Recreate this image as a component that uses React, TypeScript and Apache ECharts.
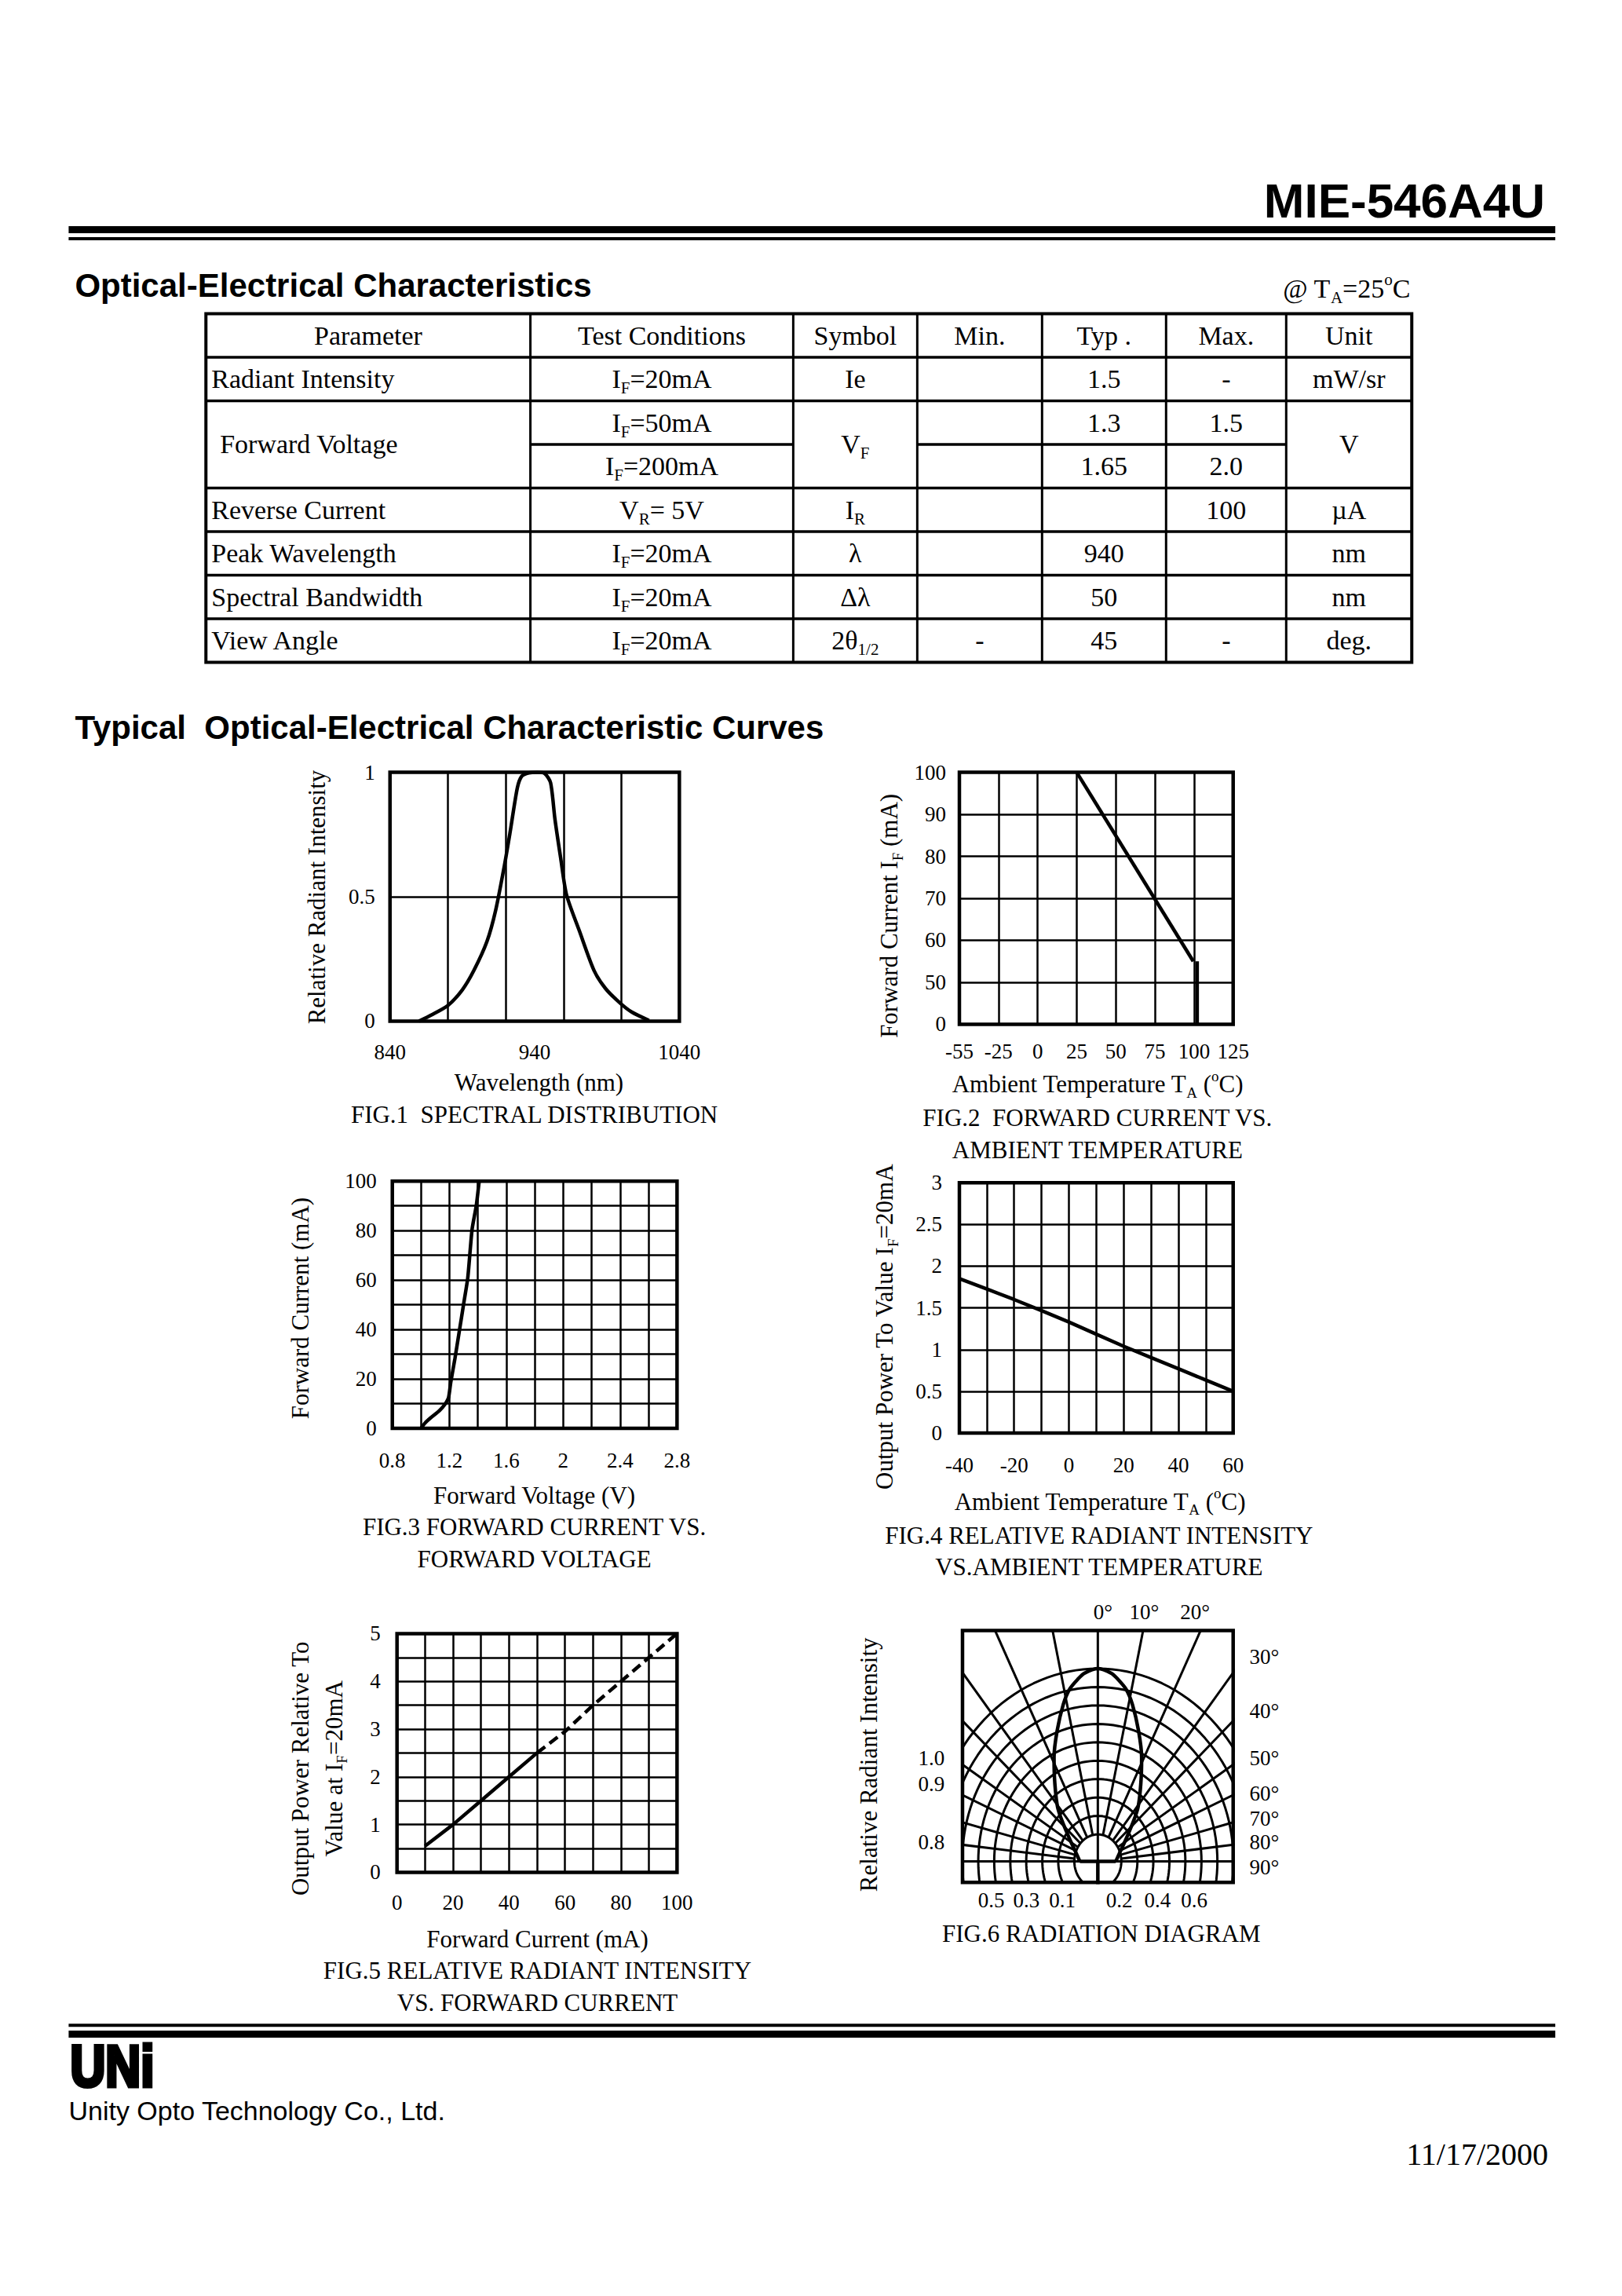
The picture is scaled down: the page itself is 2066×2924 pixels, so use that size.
import React, { useEffect, useRef } from 'react';
import * as echarts from 'echarts';

const SERIF = '"Liberation Serif", "Times New Roman", Times, serif';
const SANS = '"Liberation Sans", Arial, Helvetica, sans-serif';

// ================= DATA =================
const PART_NUMBER = 'MIE-546A4U';
const SECTION_1 = 'Optical-Electrical Characteristics';
const SECTION_2 = 'Typical  Optical-Electrical Characteristic Curves';
const CONDITION_NOTE = '@ T{sub|A}=25{sup|o}C';
const COMPANY = 'Unity Opto Technology Co., Ltd.';
const DATE = '11/17/2000';

const TABLE_HEAD = ['Parameter', 'Test Conditions', 'Symbol', 'Min.', 'Typ .', 'Max.', 'Unit'];
const ROW_PARAM = ['Radiant Intensity', 'Forward Voltage', '', 'Reverse Current', 'Peak Wavelength', 'Spectral Bandwidth', 'View Angle'];
const ROW_COND = ['I{sub|F}=20mA', 'I{sub|F}=50mA', 'I{sub|F}=200mA', 'V{sub|R}= 5V', 'I{sub|F}=20mA', 'I{sub|F}=20mA', 'I{sub|F}=20mA'];
const ROW_SYMBOL = ['Ie', 'V{sub|F}', '', 'I{sub|R}', 'λ', 'Δλ', '2θ{sub|1/2}'];
const ROW_MIN = ['', '', '', '', '', '', '-'];
const ROW_TYP = ['1.5', '1.3', '1.65', '', '940', '50', '45'];
const ROW_MAX = ['-', '1.5', '2.0', '100', '', '', '-'];
const ROW_UNIT = ['mW/sr', 'V', '', 'µA', 'nm', 'nm', 'deg.'];

// Fig.1 spectral distribution
const FIG1_WAVELENGTH = [860, 869, 880, 890, 898, 907, 913, 919, 923, 928, 931, 936, 942, 947, 951, 954, 958, 962, 971, 981, 989, 999, 1007, 1019];
const FIG1_INTENSITY = [0, 0.026, 0.063, 0.126, 0.204, 0.32, 0.445, 0.623, 0.759, 0.937, 0.984, 0.998, 1.0, 0.995, 0.958, 0.812, 0.654, 0.508, 0.361, 0.204, 0.131, 0.073, 0.037, 0.003];
const FIG1_X_LABELS = [840, 940, 1040];

// Fig.2 forward current vs ambient temperature (non-uniform tick axes)
const FIG2_T_TICKS = [-55, -25, 0, 25, 50, 75, 100, 125];
const FIG2_IF_TICKS = [0, 50, 60, 70, 80, 90, 100];
const FIG2_DERATE_T = [25, 99.5];
const FIG2_DERATE_IF = [100, 55];
const FIG2_LIMIT_T = [102, 102];
const FIG2_LIMIT_IF = [55, 0];

// Fig.3 forward current vs forward voltage
const FIG3_VF = [1.0, 1.03, 1.07, 1.13, 1.17, 1.195, 1.21, 1.24, 1.27, 1.3, 1.33, 1.36, 1.39, 1.41];
const FIG3_IF = [0, 2.2, 4.3, 7.1, 9.8, 12.5, 18.5, 28.3, 39.1, 50, 60.9, 80.4, 90.2, 100];

// Fig.4 relative radiant intensity vs ambient temperature
const FIG4_TEMP = [-40, -20, 0, 20, 40, 60];
const FIG4_POWER = [1.85, 1.6, 1.33, 1.04, 0.77, 0.5];

// Fig.5 relative radiant intensity vs forward current
const FIG5_IF_SOLID = [10, 20, 30, 40, 50];
const FIG5_P_SOLID = [0.55, 1.0, 1.5, 2.0, 2.5];
const FIG5_IF_DASH = [50, 60, 70, 80, 90, 100];
const FIG5_P_DASH = [2.5, 2.95, 3.5, 4.0, 4.5, 5.0];

// Fig.6 radiation diagram
const FIG6_LOBE_ANGLE = [0, 4.6, 7, 10.6, 14.2, 19.7, 25.8, 32.3, 41.2, 52.9, 72.6, 90];
const FIG6_LOBE_REL = [1.0, 0.98, 0.955, 0.91, 0.84, 0.72, 0.6, 0.48, 0.36, 0.222, 0.134, 0.107];
const FIG6_RING_RADII = [0.14, 0.236, 0.331, 0.427, 0.522, 0.618, 0.713, 0.809, 0.904, 1.0];
const FIG6_SPOKE_ANGLES = [12.7, 27.1, 39.5, 47.9, 58.1, 66.9, 75.9, 83.9];
const FIG6_TOP_LABELS = ['0°', '10°', '20°'];
const FIG6_RIGHT_LABELS = ['30°', '40°', '50°', '60°', '70°', '80°', '90°'];
const FIG6_LEFT_LABELS = ['1.0', '0.9', '0.8'];
const FIG6_BOTTOM_LABELS = ['0.5', '0.3', '0.1', '0.2', '0.4', '0.6'];

const FIG_CAPTIONS = [
  ['FIG.1  SPECTRAL DISTRIBUTION'],
  ['FIG.2  FORWARD CURRENT VS.', 'AMBIENT TEMPERATURE'],
  ['FIG.3 FORWARD CURRENT VS.', 'FORWARD VOLTAGE'],
  ['FIG.4 RELATIVE RADIANT INTENSITY', 'VS.AMBIENT TEMPERATURE'],
  ['FIG.5 RELATIVE RADIANT INTENSITY', 'VS. FORWARD CURRENT'],
  ['FIG.6 RADIATION DIAGRAM'],
];

// ================= HELPERS =================
const K = 0.9935; // page layout scale
const k = (v: number) => v * K;

function piecewise(v: number, ticks: number[]) {
  for (let i = 0; i < ticks.length - 1; i++) {
    const a = ticks[i], b = ticks[i + 1];
    if (v <= b || i === ticks.length - 2) return i + (v - a) / (b - a);
  }
  return 0;
}

function rich(size: number, family: string) {
  const s = Math.round(size * 0.62);
  return {
    sub: { fontSize: s, lineHeight: s, fontFamily: family, fill: '#000', verticalAlign: 'bottom' },
    sup: { fontSize: s, lineHeight: s, fontFamily: family, fill: '#000', verticalAlign: 'top' },
  };
}

function T(x: number, y: number, text: string, size: number, o: any = {}) {
  const family = o.family || SERIF;
  const style: any = {
    text,
    fill: '#000',
    fontSize: size,
    fontFamily: family,
    fontWeight: o.weight || 'normal',
    lineHeight: Math.round(size * 1.3),
    align: o.align || 'center',
    verticalAlign: 'middle',
    rich: rich(size, family),
  };
  if (o.stroke) {
    style.stroke = '#000';
    style.lineWidth = o.stroke;
  }
  return {
    type: 'text',
    x: k(x),
    y: k(y),
    rotation: o.rot || 0,
    scaleX: o.scaleX || 1,
    silent: true,
    z: 50,
    style,
  };
}

function R(x: number, y: number, w: number, h: number) {
  return { type: 'rect', silent: true, shape: { x: k(x), y: k(y), width: k(w), height: h }, style: { fill: '#000' } };
}

function L(x1: number, y1: number, x2: number, y2: number, w: number) {
  return { type: 'line', silent: true, z: 40, shape: { x1: k(x1), y1: k(y1), x2: k(x2), y2: k(y2) }, style: { stroke: '#000', lineWidth: w } };
}

// ================= LAYOUT =================
const GRIDS = [
  { left: 500, top: 990, width: 371, height: 319 },
  { left: 1230, top: 990, width: 351, height: 323 },
  { left: 503, top: 1514, width: 365, height: 317 },
  { left: 1230, top: 1516, width: 351, height: 321 },
  { left: 509, top: 2094, width: 359, height: 306 },
  { left: 1234, top: 2090, width: 347, height: 323 },
];
const TICK_FONT = 27;
const LABEL_FONT = 31;
const BORDER = 4.5;
const SPLIT = 2.5;
const CURVE = 4.5;

function buildOption() {
  const graphics: any[] = [];

  // ----- header -----
  graphics.push(T(1981, 257, PART_NUMBER, 62, { family: SANS, weight: 'bold', align: 'right' }));
  graphics.push(R(88, 290, 1906, 9));
  graphics.push(R(88, 304, 1906, 4));
  graphics.push(T(96, 366, SECTION_1, 42, { family: SANS, weight: 'bold', align: 'left' }));
  graphics.push(T(1645, 370, CONDITION_NOTE, 34, { align: 'left' }));

  // ----- table -----
  const COLS = [264, 680, 1017, 1176, 1336, 1495, 1649, 1810];
  const TOP = 402;
  const RH = 55.875;
  const BOT = TOP + RH * 8;
  graphics.push({
    type: 'rect', silent: true, z: 40,
    shape: { x: k(COLS[0]), y: k(TOP), width: k(COLS[7] - COLS[0]), height: k(BOT - TOP) },
    style: { fill: 'none', stroke: '#000', lineWidth: 4 },
  });
  for (let i = 1; i < 8; i++) {
    const y = TOP + i * RH;
    if (i === 3) {
      graphics.push(L(COLS[1], y, COLS[2], y, 3.5));
      graphics.push(L(COLS[3], y, COLS[6], y, 3.5));
    } else {
      graphics.push(L(COLS[0], y, COLS[7], y, 3.5));
    }
  }
  for (let c = 1; c < 7; c++) graphics.push(L(COLS[c], TOP, COLS[c], BOT, 3));
  const cc = (c: number) => (COLS[c] + COLS[c + 1]) / 2;
  const TF = 34;
  TABLE_HEAD.forEach((h, c) => graphics.push(T(cc(c), TOP + RH / 2, h, TF)));
  const cols = [ROW_PARAM, ROW_COND, ROW_SYMBOL, ROW_MIN, ROW_TYP, ROW_MAX, ROW_UNIT];
  for (let r = 0; r < 7; r++) {
    cols.forEach((arr, c) => {
      const v = arr[r];
      if (!v) return;
      const merged = r === 1 && (c === 0 || c === 2 || c === 6);
      const y = merged ? TOP + 3 * RH : TOP + (r + 1.5) * RH;
      if (c === 0) graphics.push(T(r === 1 ? 282 : 271, y, v, TF, { align: 'left' }));
      else graphics.push(T(cc(c), y, v, TF));
    });
  }

  graphics.push(T(96, 933, SECTION_2, 42, { family: SANS, weight: 'bold', align: 'left' }));

  // ----- figure texts -----
  const AT = 'Ambient Temperature T{sub|A} ({sup|o}C)';
  // fig1
  graphics.push(T(691, 1388, 'Wavelength (nm)', LABEL_FONT));
  graphics.push(T(685, 1429, FIG_CAPTIONS[0][0], LABEL_FONT));
  graphics.push(T(406, 1150, 'Relative Radiant Intensity', LABEL_FONT, { rot: Math.PI / 2 }));
  // fig2
  graphics.push(T(1407, 1390, AT, LABEL_FONT));
  graphics.push(T(1407, 1433, FIG_CAPTIONS[1][0], LABEL_FONT));
  graphics.push(T(1407, 1474, FIG_CAPTIONS[1][1], LABEL_FONT));
  graphics.push(T(1140, 1174, 'Forward Current I{sub|F} (mA)', LABEL_FONT, { rot: Math.PI / 2 }));
  // fig3
  graphics.push(T(685, 1917, 'Forward Voltage (V)', LABEL_FONT));
  graphics.push(T(685, 1957, FIG_CAPTIONS[2][0], LABEL_FONT));
  graphics.push(T(685, 1998, FIG_CAPTIONS[2][1], LABEL_FONT));
  graphics.push(T(385, 1677, 'Forward Current (mA)', LABEL_FONT, { rot: Math.PI / 2 }));
  // fig4
  graphics.push(T(1410, 1925, AT, LABEL_FONT));
  graphics.push(T(1409, 1968, FIG_CAPTIONS[3][0], LABEL_FONT));
  graphics.push(T(1409, 2009, FIG_CAPTIONS[3][1], LABEL_FONT));
  graphics.push(T(1134, 1701, 'Output Power To Value I{sub|F}=20mA', LABEL_FONT, { rot: Math.PI / 2 }));
  // fig5
  graphics.push(T(689, 2486, 'Forward Current (mA)', LABEL_FONT));
  graphics.push(T(689, 2526, FIG_CAPTIONS[4][0], LABEL_FONT));
  graphics.push(T(689, 2567, FIG_CAPTIONS[4][1], LABEL_FONT));
  graphics.push(T(385, 2267, 'Output Power Relative To', LABEL_FONT, { rot: Math.PI / 2 }));
  graphics.push(T(428, 2267, 'Value at I{sub|F}=20mA', LABEL_FONT, { rot: Math.PI / 2 }));
  // fig6
  const topX = [1414, 1467, 1532];
  FIG6_TOP_LABELS.forEach((t, i) => graphics.push(T(topX[i], 2066, t, TICK_FONT)));
  const rightY = [2124, 2193, 2254, 2299, 2331, 2361, 2394];
  FIG6_RIGHT_LABELS.forEach((t, i) => graphics.push(T(1602, rightY[i], t, TICK_FONT, { align: 'left' })));
  const leftY = [2254, 2287, 2361];
  FIG6_LEFT_LABELS.forEach((t, i) => graphics.push(T(1211, leftY[i], t, TICK_FONT, { align: 'right' })));
  const botX = [1271, 1316, 1362, 1435, 1484, 1531];
  FIG6_BOTTOM_LABELS.forEach((t, i) => graphics.push(T(botX[i], 2436, t, TICK_FONT)));
  graphics.push(T(1412, 2479, FIG_CAPTIONS[5][0], LABEL_FONT));
  graphics.push(T(1114, 2262, 'Relative Radiant Intensity', LABEL_FONT, { rot: Math.PI / 2 }));

  // ----- footer -----
  graphics.push(R(88, 2594, 1906, 4));
  graphics.push(R(88, 2603, 1906, 9));
  graphics.push(T(90, 2648, 'UNi', 74, { family: SANS, weight: 'bold', align: 'left', scaleX: 0.84, stroke: 5 }));
  graphics.push(T(88, 2706, COMPANY, 34, { family: SANS, align: 'left' }));
  graphics.push(T(1985, 2761, DATE, 40, { align: 'right' }));

  // ----- axes -----
  const labelBase = { color: '#000', fontFamily: SERIF, fontSize: TICK_FONT };
  const split = { show: true, lineStyle: { color: '#000', width: SPLIT } };
  const noSplit = { show: false };
  const ax = (gridIndex: number, extra: any) => ({
    type: 'value',
    gridIndex,
    axisLine: { show: false },
    axisTick: { show: false },
    splitLine: split,
    ...extra,
  });

  const xAxis = [
    ax(0, { min: 840, max: 1040, interval: 40, position: 'top', axisLabel: { show: false } }),
    ax(0, {
      min: 840, max: 1040, interval: 20, position: 'bottom', splitLine: noSplit,
      axisLabel: { ...labelBase, margin: 26, formatter: (v: number) => (FIG1_X_LABELS.includes(Math.round(v)) ? String(Math.round(v)) : '') },
    }),
    ax(1, {
      min: 0, max: FIG2_T_TICKS.length - 1, interval: 1,
      axisLabel: { ...labelBase, margin: 21, formatter: (v: number) => String(FIG2_T_TICKS[Math.round(v)]) },
    }),
    ax(2, {
      min: 0.8, max: 2.8, interval: 0.2,
      axisLabel: {
        ...labelBase, margin: 27,
        formatter: (v: number) => (Math.round((v - 0.8) / 0.2) % 2 === 0 ? String(+v.toFixed(1)) : ''),
      },
    }),
    ax(3, {
      min: -40, max: 60, interval: 10,
      axisLabel: { ...labelBase, margin: 27, formatter: (v: number) => (Math.round(v) % 20 === 0 ? String(Math.round(v)) : '') },
    }),
    ax(4, {
      min: 0, max: 100, interval: 10,
      axisLabel: { ...labelBase, margin: 25, formatter: (v: number) => (Math.round(v) % 20 === 0 ? String(Math.round(v)) : '') },
    }),
    { type: 'value', gridIndex: 5, min: -0.807, max: 0.807, show: false },
  ];

  const yAxis = [
    ax(0, { min: 0, max: 1, interval: 0.5, axisLabel: { ...labelBase, margin: 19 } }),
    ax(1, {
      min: 0, max: FIG2_IF_TICKS.length - 1, interval: 1,
      axisLabel: { ...labelBase, margin: 17, formatter: (v: number) => String(FIG2_IF_TICKS[Math.round(v)]) },
    }),
    ax(2, {
      min: 0, max: 100, interval: 10,
      axisLabel: { ...labelBase, margin: 20, formatter: (v: number) => (Math.round(v) % 20 === 0 ? String(Math.round(v)) : '') },
    }),
    ax(3, { min: 0, max: 3, interval: 0.5, axisLabel: { ...labelBase, margin: 22 } }),
    ax(4, {
      min: 0, max: 5, interval: 0.5,
      axisLabel: { ...labelBase, margin: 21, formatter: (v: number) => (Math.abs(v - Math.round(v)) < 1e-6 ? String(Math.round(v)) : '') },
    }),
    { type: 'value', gridIndex: 5, min: -0.109, max: 1.198, show: false },
  ];

  const line = (xi: number, yi: number, data: number[][], width = CURVE, extra: any = {}) => ({
    type: 'line',
    xAxisIndex: xi,
    yAxisIndex: yi,
    data,
    symbol: 'none',
    silent: true,
    clip: true,
    lineStyle: { color: '#000', width, ...(extra.lineStyle || {}) },
    smooth: extra.smooth || false,
    z: 10,
  });

  const series: any[] = [];
  series.push(line(0, 0, FIG1_WAVELENGTH.map((x, i) => [x, FIG1_INTENSITY[i]]), CURVE, { smooth: 0.25 }));
  series.push(line(2, 1, FIG2_DERATE_T.map((t, i) => [piecewise(t, FIG2_T_TICKS), piecewise(FIG2_DERATE_IF[i], FIG2_IF_TICKS)])));
  series.push(line(2, 1, FIG2_LIMIT_T.map((t, i) => [piecewise(t, FIG2_T_TICKS), piecewise(FIG2_LIMIT_IF[i], FIG2_IF_TICKS)])));
  series.push(line(3, 2, FIG3_VF.map((v, i) => [v, FIG3_IF[i]]), CURVE, { smooth: 0.2 }));
  series.push(line(4, 3, FIG4_TEMP.map((t, i) => [t, FIG4_POWER[i]]), CURVE, { smooth: 0.2 }));
  series.push(line(5, 4, FIG5_IF_SOLID.map((c, i) => [c, FIG5_P_SOLID[i]])));
  series.push(line(5, 4, FIG5_IF_DASH.map((c, i) => [c, FIG5_P_DASH[i]]), CURVE, { lineStyle: { type: [13, 7] } }));

  // fig6 grid: rings
  const G6 = 3;
  FIG6_RING_RADII.forEach((r) => {
    const pts: number[][] = [];
    for (let j = 0; j <= 144; j++) {
      const a = (j / 144) * Math.PI * 2;
      pts.push([r * Math.sin(a), r * Math.cos(a)]);
    }
    series.push(line(6, 5, pts, G6));
  });
  // spokes
  const r0 = FIG6_RING_RADII[0];
  FIG6_SPOKE_ANGLES.forEach((deg) => {
    const a = (deg * Math.PI) / 180;
    [-1, 1].forEach((s) => {
      series.push(line(6, 5, [[s * r0 * Math.sin(a), r0 * Math.cos(a)], [s * 3 * Math.sin(a), 3 * Math.cos(a)]], G6));
    });
  });
  series.push(line(6, 5, [[0, -0.5], [0, 2]], G6));
  series.push(line(6, 5, [[-1, 0], [1, 0]], G6));
  // lobe
  const lobe: number[][] = [];
  for (let i = FIG6_LOBE_ANGLE.length - 1; i >= 0; i--) {
    const a = (-FIG6_LOBE_ANGLE[i] * Math.PI) / 180;
    lobe.push([FIG6_LOBE_REL[i] * Math.sin(a), FIG6_LOBE_REL[i] * Math.cos(a)]);
  }
  for (let i = 1; i < FIG6_LOBE_ANGLE.length; i++) {
    const a = (FIG6_LOBE_ANGLE[i] * Math.PI) / 180;
    lobe.push([FIG6_LOBE_REL[i] * Math.sin(a), FIG6_LOBE_REL[i] * Math.cos(a)]);
  }
  series.push(line(6, 5, lobe, CURVE, { smooth: 0.3 }));
  const baseR = FIG6_LOBE_REL[FIG6_LOBE_REL.length - 1];
  series.push(line(6, 5, [[-baseR, 0], [baseR, 0]], CURVE));
  series.push(line(6, 5, [[0, -0.5], [0, 0]], CURVE));

  return {
    animation: false,
    backgroundColor: '#fff',
    grid: GRIDS.map((g) => ({
      left: k(g.left), top: k(g.top), width: k(g.width), height: k(g.height),
      show: true, borderWidth: BORDER, borderColor: '#000', backgroundColor: 'transparent', containLabel: false, z: 20,
    })),
    xAxis,
    yAxis,
    series,
    graphic: { elements: graphics },
  };
}

export default function App() {
  const ref = useRef<HTMLDivElement>(null);
  useEffect(() => {
    document.body.style.margin = '0';
    document.body.style.overflow = 'hidden';
    const chart = echarts.init(ref.current as HTMLDivElement, undefined, { renderer: 'svg', width: 2066, height: 2924 });
    chart.setOption(buildOption() as any);
    return () => chart.dispose();
  }, []);
  return <div ref={ref} style={{ width: 2066, height: 2924, background: '#fff' }} />;
}
